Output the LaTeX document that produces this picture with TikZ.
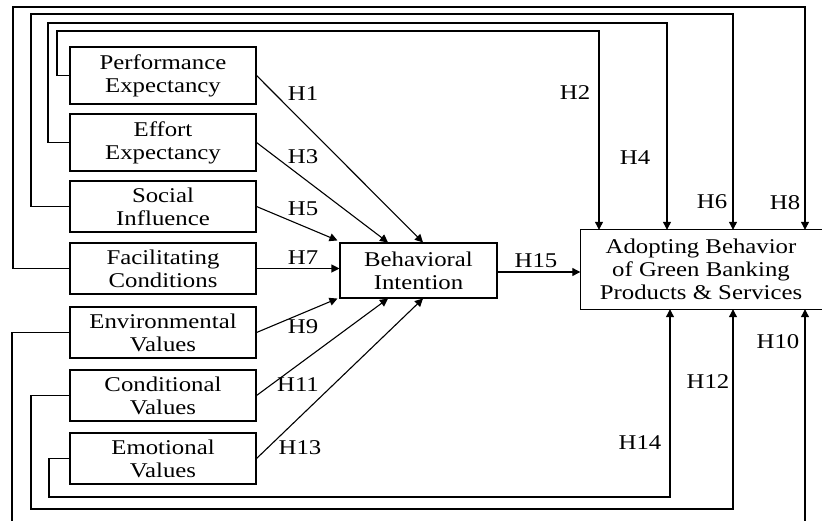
\documentclass[tikz,border=0pt]{standalone}
\usepackage{fontspec}
\setmainfont{Liberation Serif}[FakeStretch=1.18]
\usetikzlibrary{arrows.meta}

\tikzset{
  construct/.style={draw, line width=1.1pt, minimum width=186, align=center, inner sep=0pt},
  hyp/.style={-{Triangle[length=8pt,width=8pt]}, line width=1.1pt},
  hlabel/.style={inner sep=1pt}
}

\begin{document}
\begin{tikzpicture}[x=1pt, y=-1pt, font=\fontsize{21}{23}\selectfont]
            \clip (0,0) rectangle (822,520);
            % independent constructs
            \node[construct, minimum height=57] (pe) at (163,75.5) {Performance\\Expectancy};
            \node[construct, minimum height=57] (ee) at (163,142.5) {Effort\\Expectancy};
            \node[construct, minimum height=51] (si) at (163,206.5) {Social\\Influence};
            \node[construct, minimum height=51] (fc) at (163,268.5) {Facilitating\\Conditions};
            \node[construct, minimum height=51] (ev) at (163,332.5) {Environmental\\Values};
            \node[construct, minimum height=51] (cv) at (163,395.5) {Conditional\\Values};
            \node[construct, minimum height=51] (mv) at (163,458.5) {Emotional\\Values};
            % mediator and outcome
            \node[construct, minimum width=157, minimum height=55] (bi) at (418.5,270.5) {Behavioral\\Intention};
            \node[minimum width=241, minimum height=79, align=center, inner sep=0pt] (ad) at (701,269.5) {Adopting Behavior\\of Green Banking\\Products \& Services};
            \draw[line width=1.1pt] (ad.south west) rectangle ([xshift=12]ad.north east);
            % paths to behavioral intention
            \draw[hyp] (pe.east) -- ([xshift=4.5]bi.north);
            \draw[hyp] (ee.east) -- ([xshift=-30.5]bi.north);
            \draw[hyp] (si.east) -- ([shift={(-2,-2)}]bi.north west);
            \draw[hyp] (fc.east) -- (fc.east -| bi.west);
            \draw[hyp] (ev.east) -- ([shift={(-2,0)}]bi.south west);
            \draw[hyp] (cv.east) -- ([xshift=-30.5]bi.south);
            \draw[hyp] (mv.east) -- ([xshift=4.5]bi.south);
            \draw[hyp] (bi.east |- 0,272) -- (ad.west |- 0,272);
            % direct paths over the top
            \draw[hyp] (pe.west) -| (57,31) -| ([xshift=-102]ad.north);
            \draw[hyp] (ee.west) -| (48,23) -| ([xshift=-34]ad.north);
            \draw[hyp] (si.west) -| (31,14) -| ([xshift=32]ad.north);
            \draw[hyp] (fc.west) -| (13,7) -| ([xshift=104]ad.north);
            % direct paths along the bottom
            \draw[hyp] (ev.west) -| (12,530) -| ([xshift=104]ad.south);
            \draw[hyp] (cv.west) -| (31,509) -| ([xshift=32]ad.south);
            \draw[hyp] (mv.west) -| (49,497) -| ([xshift=-31]ad.south);
            % hypothesis labels
            \node[hlabel] (h1) at (303,94) {H1};
            \node[hlabel] (h3) at (303,157) {H3};
            \node[hlabel] (h5) at (303,209) {H5};
            \node[hlabel] (h7) at (303,258) {H7};
            \node[hlabel] (h9) at (303,327) {H9};
            \node[hlabel] (h11) at (298,385) {H11};
            \node[hlabel] (h13) at (300,448) {H13};
            \node[hlabel] (h15) at (536,261) {H15};
            \node[hlabel] (h2) at (575,93) {H2};
            \node[hlabel] (h4) at (635,158) {H4};
            \node[hlabel] (h6) at (712,202) {H6};
            \node[hlabel] (h8) at (785,203) {H8};
            \node[hlabel] (h10) at (778,342) {H10};
            \node[hlabel] (h12) at (708,382) {H12};
            \node[hlabel] (h14) at (640,443) {H14};
\end{tikzpicture}
\end{document}
